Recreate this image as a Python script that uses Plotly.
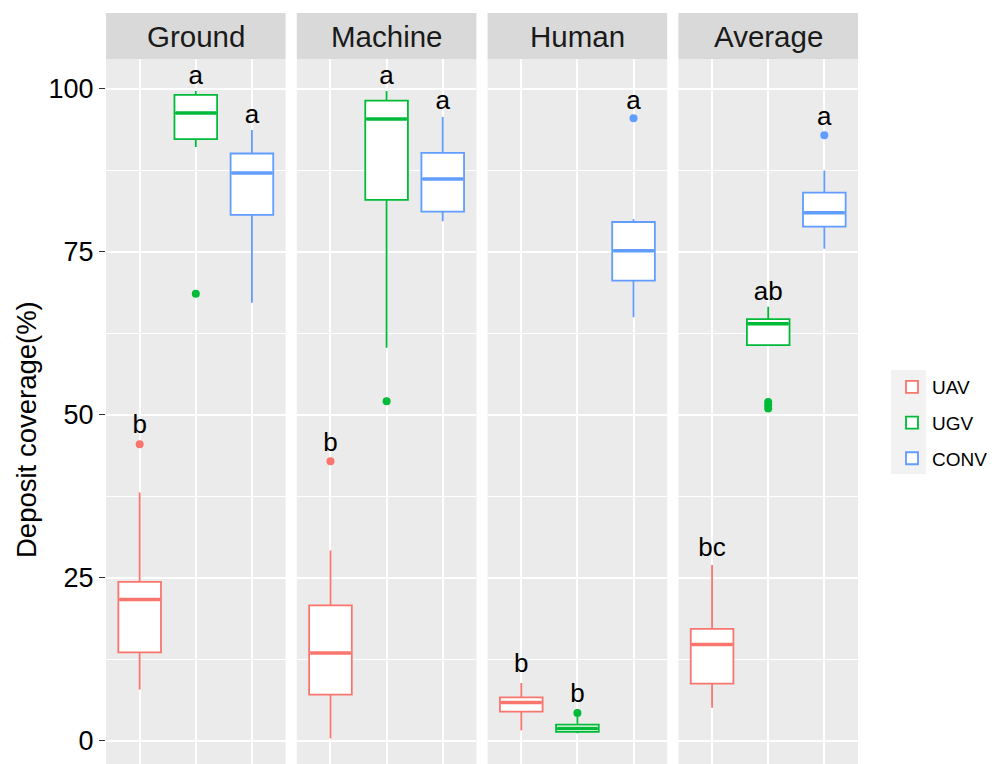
import plotly.graph_objects as go
from plotly.subplots import make_subplots

# ---------------- data ----------------
panels = ["Ground", "Machine", "Human", "Average"]
groups = ["UAV", "UGV", "CONV"]
colors = ["#F8766D", "#00BA38", "#619CFF"]

# per group, values for the 4 panels (Ground, Machine, Human, Average)
uav_lower = [7.9, 0.4, 1.6, 5.1]
uav_q1 = [13.6, 7.1, 4.5, 8.8]
uav_med = [21.7, 13.5, 5.9, 14.8]
uav_q3 = [24.4, 20.8, 6.7, 17.2]
uav_upper = [38.1, 29.2, 8.9, 27.0]
uav_out = [[45.5], [42.9], [], []]

ugv_lower = [91.1, 60.3, 1.2, 60.7]
ugv_q1 = [92.3, 83.0, 1.4, 60.7]
ugv_med = [96.3, 95.4, 1.9, 64.0]
ugv_q3 = [99.1, 98.2, 2.5, 64.7]
ugv_upper = [99.7, 99.7, 3.7, 66.6]
ugv_out = [[68.6], [52.1], [4.3], [51.0, 51.5, 52.0]]

conv_lower = [67.2, 79.7, 65.0, 75.5]
conv_q1 = [80.7, 81.2, 70.6, 78.9]
conv_med = [87.1, 86.2, 75.2, 81.0]
conv_q3 = [90.1, 90.2, 79.6, 84.1]
conv_upper = [93.7, 95.7, 80.0, 87.5]
conv_out = [[], [], [95.5], [92.9]]

uav_letters = ["b", "b", "b", "bc"]
uav_letter_y = [48.2, 45.4, 11.6, 29.3]
ugv_letters = ["a", "a", "b", "ab"]
ugv_letter_y = [101.8, 101.8, 7.0, 68.6]
conv_letters = ["a", "a", "a", "a"]
conv_letter_y = [95.7, 97.9, 97.9, 95.5]

y_ticks = [0, 25, 50, 75, 100]
y_minor = [12.5, 37.5, 62.5, 87.5]
y_title = "Deposit coverage(%)"

stats = {
    "UAV": (uav_lower, uav_q1, uav_med, uav_q3, uav_upper, uav_out, uav_letters, uav_letter_y),
    "UGV": (ugv_lower, ugv_q1, ugv_med, ugv_q3, ugv_upper, ugv_out, ugv_letters, ugv_letter_y),
    "CONV": (conv_lower, conv_q1, conv_med, conv_q3, conv_upper, conv_out, conv_letters, conv_letter_y),
}

# ---------------- layout geometry (page has an 8px body margin) ----------------
W, H = 987, 756
ML, MR, MT, MB = 98, 137, 5, 0
plot_w = W - ML - MR
plot_h = H - MT - MB
panel_top_px = 51.3
dom_top = (H - panel_top_px) / plot_h
pw = 179.6
gap = (plot_w - 4 * pw) / 3
BOX_W = 0.76
FONT = "Liberation Sans, Arial, sans-serif"

fig = make_subplots(rows=1, cols=4, shared_yaxes=True)

for pi, panel in enumerate(panels):
    col = pi + 1
    for gi, g in enumerate(groups):
        lo, q1, md, q3, up, outs, letters, ly = stats[g]
        pos = gi + 1
        fig.add_trace(go.Box(
            x=[pos], q1=[q1[pi]], median=[md[pi]], q3=[q3[pi]],
            lowerfence=[lo[pi]], upperfence=[up[pi]],
            name=g, legendgroup=g, showlegend=(pi == 0),
            boxpoints=False, width=BOX_W, whiskerwidth=0,
            fillcolor="white", line=dict(color=colors[gi], width=1.8),
            hoverinfo="skip",
        ), row=1, col=col)
        # thicker median line (ggplot style)
        fig.add_trace(go.Scatter(
            x=[pos - BOX_W / 2 + 0.02, pos + BOX_W / 2 - 0.02], y=[md[pi], md[pi]],
            mode="lines", line=dict(color=colors[gi], width=3.5),
            showlegend=False, hoverinfo="skip", legendgroup=g,
        ), row=1, col=col)
        if outs[pi]:
            fig.add_trace(go.Scatter(
                x=[pos] * len(outs[pi]), y=outs[pi], mode="markers",
                marker=dict(color=colors[gi], size=8),
                showlegend=False, hoverinfo="skip", legendgroup=g,
            ), row=1, col=col)
    # letters
    fig.add_trace(go.Scatter(
        x=[1, 2, 3],
        y=[stats[g][7][pi] for g in groups],
        text=[stats[g][6][pi] for g in groups],
        mode="text", textposition="middle center",
        textfont=dict(size=26, color="black", family=FONT),
        showlegend=False, hoverinfo="skip",
    ), row=1, col=col)

    x0 = pi * (pw + gap) / plot_w
    x1 = min(1.0, (pi * (pw + gap) + pw) / plot_w)
    xa = "xaxis" if pi == 0 else f"xaxis{col}"
    fig.layout[xa].update(
        domain=[x0, x1], range=[0.4, 3.6], tickvals=[1, 2, 3],
        showticklabels=False, ticks="", showgrid=True, gridcolor="white",
        gridwidth=1.5, zeroline=False, showline=False, automargin=False,
    )
    xref = "x" if pi == 0 else f"x{col}"
    fig.add_shape(type="rect", xref=f"{xref} domain", yref="paper",
                  x0=0, x1=1, y0=dom_top, y1=1.0,
                  fillcolor="#D9D9D9", line=dict(width=0), layer="below")
    fig.add_annotation(xref=f"{xref} domain", yref="paper", x=0.5,
                       y=(dom_top + 1.0) / 2, text=panel, showarrow=False,
                       xanchor="center", yanchor="middle",
                       font=dict(size=29.5, color="#1A1A1A", family=FONT))

for i in range(1, 5):
    ya = "yaxis" if i == 1 else f"yaxis{i}"
    fig.layout[ya].update(
        domain=[0, dom_top], range=[-3.53, 104.55], tickvals=y_ticks,
        showgrid=True, gridcolor="white", gridwidth=1.5, zeroline=False,
        showline=False, automargin=False,
        minor=dict(tickvals=y_minor, showgrid=True, gridcolor="white", gridwidth=0.8, ticks=""),
    )

fig.layout.yaxis.update(
    ticks="outside", ticklen=6, tickwidth=1.2, tickcolor="#333333",
    tickfont=dict(size=27, color="black", family=FONT),
)

# y-axis title (centred like the original, whose panel extends below the crop)
fig.add_annotation(xref="paper", yref="paper",
                   x=(18 - ML) / plot_w, y=(H - 422) / plot_h,
                   text=y_title, textangle=-90, showarrow=False,
                   xanchor="center", yanchor="middle",
                   font=dict(size=27.5, color="black", family=FONT))

# legend key background
fig.add_shape(type="rect", xref="paper", yref="paper",
              x0=(883 - ML) / plot_w, x1=(918 - ML) / plot_w,
              y0=(H - 466) / plot_h, y1=(H - 362) / plot_h,
              fillcolor="#F2F2F2", line=dict(width=0), layer="below")

fig.update_layout(
    width=W, height=H,
    margin=dict(l=ML, r=MR, t=MT, b=MB, autoexpand=False),
    plot_bgcolor="#EBEBEB", paper_bgcolor="white",
    font=dict(family=FONT, color="black"),
    legend=dict(x=(884 - ML) / plot_w, y=(H - 360) / plot_h, xanchor="left", yanchor="top",
                font=dict(size=19, color="black", family=FONT),
                traceorder="grouped", tracegroupgap=8, bgcolor="rgba(0,0,0,0)"),
    showlegend=True,
)

fig.write_html("out.html")
